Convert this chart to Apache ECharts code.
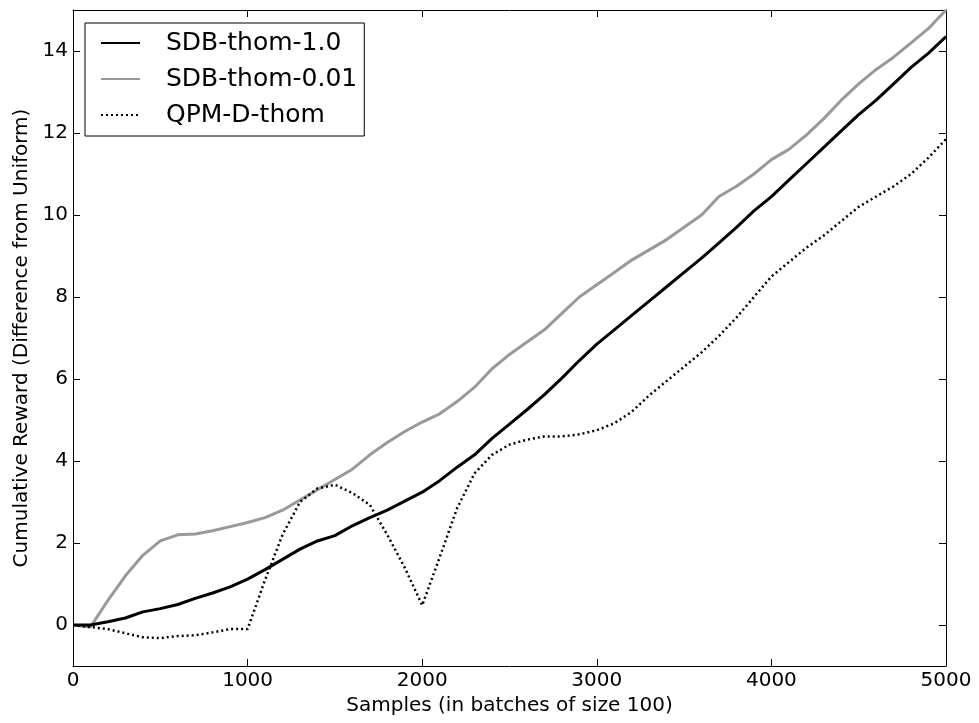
<!DOCTYPE html>
<html>
<head>
<meta charset="utf-8">
<script src="https://cdn.jsdelivr.net/npm/echarts@6/dist/echarts.min.js"></script>
<style>
  html, body { margin: 0; padding: 0; background: #fff; }
  #chart { width: 979px; height: 723px; }
</style>
</head>
<body>
<div id="chart"></div>
<script>
// samples (x), one point per 100
const samples = []
for (let i = 0; i <= 50; i++) samples.push(i * 100)

const sdbThom10 = [
  0, 0.0, 0.08, 0.17, 0.32, 0.4, 0.5, 0.65, 0.78, 0.93,
  1.12, 1.35, 1.6, 1.85, 2.05, 2.18, 2.42, 2.62, 2.8, 3.02,
  3.24, 3.52, 3.85, 4.15, 4.55, 4.9, 5.25, 5.62, 6.02, 6.45,
  6.85, 7.2, 7.55, 7.9, 8.25, 8.6, 8.95, 9.32, 9.7, 10.1,
  10.45, 10.85, 11.25, 11.65, 12.05, 12.45, 12.8, 13.2, 13.6, 13.95,
  14.35
]

const sdbThom001 = [
  0, -0.05, 0.6, 1.2, 1.7, 2.05, 2.2, 2.22, 2.3, 2.4,
  2.5, 2.62, 2.8, 3.05, 3.3, 3.55, 3.8, 4.15, 4.45, 4.72,
  4.95, 5.15, 5.45, 5.8, 6.25, 6.6, 6.9, 7.2, 7.6, 8.0,
  8.3, 8.6, 8.9, 9.15, 9.4, 9.7, 10.0, 10.45, 10.7, 11.0,
  11.35, 11.6, 11.95, 12.35, 12.8, 13.2, 13.55, 13.85, 14.2, 14.55,
  15.0
]

const qpmDThom = [
  0, -0.05, -0.1, -0.2, -0.3, -0.32, -0.27, -0.25, -0.18, -0.1,
  -0.1, 1.1, 2.2, 3.0, 3.33, 3.42, 3.22, 2.93, 2.2, 1.4,
  0.48, 1.65, 2.85, 3.7, 4.15, 4.4, 4.52, 4.6, 4.6, 4.65,
  4.75, 4.92, 5.2, 5.6, 5.95, 6.3, 6.65, 7.05, 7.5, 8.0,
  8.5, 8.85, 9.2, 9.5, 9.85, 10.2, 10.45, 10.7, 11.0, 11.4,
  11.85
]

const yTicks = [0, 2, 4, 6, 8, 10, 12, 14]

const font = 'DejaVu Sans'

function pairs(ys) {
  return samples.map((x, i) => [x, ys[i]])
}

const chart = echarts.init(document.getElementById('chart'), null, { renderer: 'canvas' })

const xBase = {
  type: 'value',
  min: 0,
  max: 5000,
  interval: 1000,
  splitLine: { show: false },
  axisLine: { show: true, onZero: false, lineStyle: { color: '#000', width: 1 } },
  axisTick: { show: true, inside: true, length: 7, lineStyle: { color: '#000' } }
}

const yBase = {
  type: 'value',
  min: -1,
  max: 15,
  splitLine: { show: false },
  axisLine: { show: true, onZero: false, lineStyle: { color: '#000', width: 1 } },
  axisTick: { show: true, inside: true, length: 7, customValues: yTicks, lineStyle: { color: '#000' } }
}

const option = {
  animation: false,
  backgroundColor: '#fff',
  textStyle: { fontFamily: font },
  grid: { left: 73, right: 33, top: 10, bottom: 57, containLabel: false },
  legend: {
    orient: 'vertical',
    left: 85,
    top: 23,
    align: 'left',
    padding: [7, 7, 8, 15],
    itemWidth: 39,
    itemHeight: 26,
    itemGap: 10,
    borderColor: '#000',
    borderWidth: 1,
    borderRadius: 0,
    itemStyle: { opacity: 0 },
    textStyle: { fontFamily: font, fontSize: 25, color: '#000', lineHeight: 26, padding: [0, 0, 0, 21] },
    data: ['SDB-thom-1.0', 'SDB-thom-0.01', 'QPM-D-thom']
  },
  xAxis: [
    Object.assign({}, xBase, {
      position: 'bottom',
      name: 'Samples (in batches of size 100)',
      nameLocation: 'middle',
      nameGap: 30,
      nameTextStyle: { fontFamily: font, fontSize: 20, color: '#000' },
      axisLabel: { fontFamily: font, fontSize: 20, color: '#000', margin: 5, formatter: v => String(v) }
    }),
    Object.assign({}, xBase, { position: 'top', axisLabel: { show: false } })
  ],
  yAxis: [
    Object.assign({}, yBase, {
      position: 'left',
      name: 'Cumulative Reward (Difference from Uniform)',
      nameLocation: 'middle',
      nameGap: 31,
      nameTextStyle: { fontFamily: font, fontSize: 20, color: '#000' },
      axisLabel: { fontFamily: font, fontSize: 20, color: '#000', margin: 5, customValues: yTicks }
    }),
    Object.assign({}, yBase, { position: 'right', axisLabel: { show: false } })
  ],
  series: [
    {
      name: 'SDB-thom-1.0',
      type: 'line',
      data: pairs(sdbThom10),
      symbol: 'none',
      lineStyle: { color: '#000', width: 3 },
      itemStyle: { color: '#000' },
      z: 3
    },
    {
      name: 'SDB-thom-0.01',
      type: 'line',
      data: pairs(sdbThom001),
      symbol: 'none',
      lineStyle: { color: '#999999', width: 3 },
      itemStyle: { color: '#999999' },
      z: 2
    },
    {
      name: 'QPM-D-thom',
      type: 'line',
      data: pairs(qpmDThom),
      symbol: 'none',
      lineStyle: { color: '#000', width: 2.5, type: [2, 3], cap: 'butt' },
      itemStyle: { color: '#000' },
      z: 4
    }
  ]
}

option && chart.setOption(option)
</script>
</body>
</html>
